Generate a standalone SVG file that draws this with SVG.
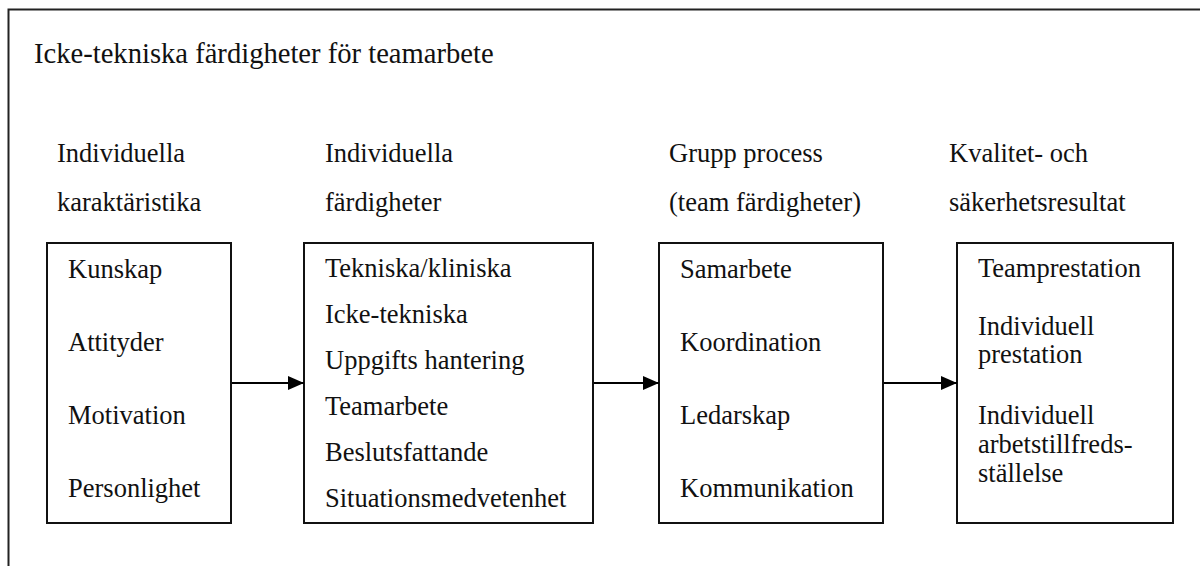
<svg xmlns="http://www.w3.org/2000/svg" width="1200" height="566" viewBox="0 0 1200 566">
  <defs>
    <style>
      .frame { fill: none; stroke: #222; stroke-width: 2; }
      .box { fill: #fff; stroke: #111; stroke-width: 2; }
      .txt { font-family: "Liberation Serif", "Times New Roman", serif; font-size: 26.5px; fill: #111; }
      .title { font-family: "Liberation Serif", "Times New Roman", serif; font-size: 28.6px; fill: #111; }
      .conn { stroke: #000; stroke-width: 2; fill: none; }
    </style>
    <marker id="arrowhead" viewBox="0 0 16 14" refX="16" refY="7" markerWidth="16" markerHeight="14" markerUnits="userSpaceOnUse" orient="auto">
      <path d="M0,0 L16,7 L0,14 Z" fill="#000"/>
    </marker>
  </defs>

  <rect width="1200" height="566" fill="#fff"/>
  <!-- outer frame, runs off the right and bottom edges -->
  <rect class="frame" x="8.5" y="9.5" width="1200" height="600"/>

  <text class="title" x="34" y="63">Icke-tekniska färdigheter för teamarbete</text>

  <!-- column headings -->
  <g id="headings">
    <text class="txt" x="57" y="162">Individuella</text>
    <text class="txt" x="57" y="211">karaktäristika</text>
    <text class="txt" x="325" y="162">Individuella</text>
    <text class="txt" x="325" y="211">färdigheter</text>
    <text class="txt" x="669" y="162">Grupp process</text>
    <text class="txt" x="669" y="211">(team färdigheter)</text>
    <text class="txt" x="949" y="162">Kvalitet- och</text>
    <text class="txt" x="949" y="211">säkerhetsresultat</text>
  </g>

  <g id="individual-traits">
    <rect class="box" x="47" y="243" width="184" height="280"/>
    <text class="txt" x="68" y="278">Kunskap</text>
    <text class="txt" x="68" y="351">Attityder</text>
    <text class="txt" x="68" y="424">Motivation</text>
    <text class="txt" x="68" y="497">Personlighet</text>
  </g>

  <g id="individual-skills">
    <rect class="box" x="304" y="243" width="289" height="280"/>
    <text class="txt" x="325" y="277">Tekniska/kliniska</text>
    <text class="txt" x="325" y="323">Icke-tekniska</text>
    <text class="txt" x="325" y="369">Uppgifts hantering</text>
    <text class="txt" x="325" y="415">Teamarbete</text>
    <text class="txt" x="325" y="461">Beslutsfattande</text>
    <text class="txt" x="325" y="507">Situationsmedvetenhet</text>
  </g>

  <g id="group-process">
    <rect class="box" x="659" y="243" width="224" height="280"/>
    <text class="txt" x="680" y="278">Samarbete</text>
    <text class="txt" x="680" y="351">Koordination</text>
    <text class="txt" x="680" y="424">Ledarskap</text>
    <text class="txt" x="680" y="497">Kommunikation</text>
  </g>

  <g id="outcomes">
    <rect class="box" x="957" y="243" width="216" height="280"/>
    <text class="txt" x="978" y="277">Teamprestation</text>
    <text class="txt" x="978" y="335">Individuell</text>
    <text class="txt" x="978" y="363">prestation</text>
    <text class="txt" x="978" y="424">Individuell</text>
    <text class="txt" x="978" y="453">arbetstillfreds-</text>
    <text class="txt" x="978" y="482">ställelse</text>
  </g>

  <g id="connectors">
    <line class="conn" x1="232" y1="383" x2="304" y2="383" marker-end="url(#arrowhead)"/>
    <line class="conn" x1="594" y1="383" x2="659" y2="383" marker-end="url(#arrowhead)"/>
    <line class="conn" x1="884" y1="383" x2="957" y2="383" marker-end="url(#arrowhead)"/>
  </g>
</svg>
